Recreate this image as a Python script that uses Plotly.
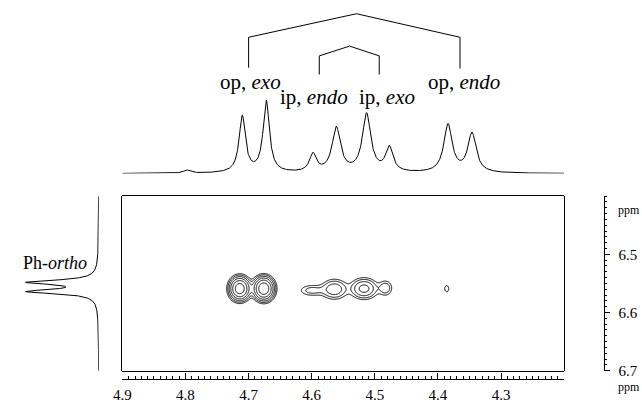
import numpy as np
import plotly.graph_objects as go

# ---------------- data ----------------
# F2 (horizontal, 1H) projection: peak list (ppm, height, half-width ppm)
f2_ppm = [4.798, 4.710, 4.672, 4.598, 4.561, 4.513, 4.477, 4.384, 4.346]
f2_height = [0.031, 0.575, 0.73, 0.183, 0.455, 0.595, 0.25, 0.49, 0.40]
f2_halfwidth = [0.006, 0.006, 0.006, 0.0065, 0.008, 0.008, 0.007, 0.0079, 0.0079]

# F1 (vertical, Ph-ortho) projection
f1_ppm = [6.548, 6.564]
f1_height = [0.76, 0.76]
f1_halfwidth = [0.0045, 0.0045]

# cross peaks (F2 ppm, F1 ppm, amplitude, sigma F2, sigma F1)
cross_f2 = [4.714, 4.676, 4.600, 4.564, 4.517, 4.483, 4.386]
cross_f1 = [6.559, 6.559, 6.562, 6.560, 6.559, 6.558, 6.559]
cross_amp = [1.0, 1.1, 0.11, 0.22, 0.30, 0.13, 0.065]
cross_sx = [0.0085, 0.0085, 0.013, 0.0120, 0.0120, 0.0070, 0.0044]
cross_sy = [0.0105, 0.0105, 0.0065, 0.0100, 0.0100, 0.0085, 0.0072]

# peak labels
label_text = ["op, <i>exo</i>", "ip, <i>endo</i>", "ip, <i>exo</i>", "op, <i>endo</i>"]
label_ppm = [4.697, 4.596, 4.480, 4.358]
label_level = [0.93, 0.78, 0.78, 0.93]

# connecting brackets (ppm of legs and apex, heights in projection units)
bracket_outer_ppm = [4.700, 4.700, 4.529, 4.365, 4.365]
bracket_outer_lvl = [1.08, 1.39, 1.63, 1.39, 1.07]
bracket_inner_ppm = [4.588, 4.588, 4.540, 4.493, 4.493]
bracket_inner_lvl = [1.01, 1.20, 1.30, 1.20, 1.01]

x_ticks = [4.9, 4.8, 4.7, 4.6, 4.5, 4.4, 4.3]
y_ticks = [6.5, 6.6, 6.7]

# ---------------- build curves ----------------
gx = np.linspace(4.9, 4.2, 1400)
top = np.zeros_like(gx)
for p, h, w in zip(f2_ppm, f2_height, f2_halfwidth):
    top += h * w**2 / (w**2 + (gx - p) ** 2)

gy = np.linspace(6.4, 6.7, 800)
side = np.zeros_like(gy)
for p, h, w in zip(f1_ppm, f1_height, f1_halfwidth):
    side += h * w**2 / (w**2 + (gy - p) ** 2)

cx = np.linspace(4.9, 4.2, 1000)
cy = np.linspace(6.4, 6.7, 450)
X, Y = np.meshgrid(cx, cy)
Z = np.zeros_like(X)
for a, b, amp, sx, sy in zip(cross_f2, cross_f1, cross_amp, cross_sx, cross_sy):
    Z += amp * np.exp(-0.5 * ((X - a) / sx) ** 2 - 0.5 * ((Y - b) / sy) ** 2)
logZ = np.log(Z + 1e-9)

W, H = 642, 414
def px(v):
    return v / W
def py(v):
    return 1 - v / H

serif = "Liberation Serif"
fig = go.Figure()

# 2D contour (drawn on the ppm scale axes, which share the box area)
fig.add_trace(go.Contour(
    x=cx, y=cy, z=logZ,
    contours=dict(start=np.log(0.05), end=np.log(1.2), size=np.log(1.7), coloring="lines"),
    colorscale=[[0, "black"], [1, "black"]],
    line=dict(width=1), showscale=False, hoverinfo="skip",
    xaxis="x2", yaxis="y2"))

# top projection
fig.add_trace(go.Scatter(x=gx, y=top, mode="lines", line=dict(color="black", width=1),
                         xaxis="x", yaxis="y3", hoverinfo="skip"))
# brackets
fig.add_trace(go.Scatter(x=bracket_outer_ppm, y=bracket_outer_lvl, mode="lines",
                         line=dict(color="black", width=1), xaxis="x", yaxis="y3"))
fig.add_trace(go.Scatter(x=bracket_inner_ppm, y=bracket_inner_lvl, mode="lines",
                         line=dict(color="black", width=1), xaxis="x", yaxis="y3"))
# side projection
fig.add_trace(go.Scatter(x=side, y=gy, mode="lines", line=dict(color="black", width=1),
                         xaxis="x4", yaxis="y", hoverinfo="skip"))

for t, xp, lv in zip(label_text, label_ppm, label_level):
    fig.add_annotation(x=xp, y=lv, xref="x", yref="y3", text=t, showarrow=False,
                       xanchor="center", yanchor="middle",
                       font=dict(family=serif, size=21, color="black"))

fig.add_annotation(x=px(47), y=py(268), xref="paper", yref="paper",
                   text="Ph-<i>ortho</i>", showarrow=False, xanchor="center", yanchor="middle",
                   font=dict(family=serif, size=18, color="black"))
fig.add_annotation(x=1.0, y=py(395), xref="paper", yref="paper", text="ppm",
                   showarrow=False, xanchor="right", yanchor="middle",
                   font=dict(family=serif, size=12, color="black"))
fig.add_annotation(x=1.0, y=py(214), xref="paper", yref="paper", text="ppm",
                   showarrow=False, xanchor="right", yanchor="middle",
                   font=dict(family=serif, size=12, color="black"))

box_x = [px(115), px(563)]
box_y = [py(378), py(200)]
fig.update_layout(
    width=W, height=H, margin=dict(l=0, r=0, t=0, b=0),
    paper_bgcolor="white", plot_bgcolor="rgba(0,0,0,0)", showlegend=False,
    xaxis=dict(domain=box_x, range=[4.9, 4.2], showline=True, mirror=True,
               linecolor="black", linewidth=1, showticklabels=False, ticks="",
               showgrid=False, zeroline=False, anchor="y"),
    yaxis=dict(domain=box_y, range=[6.7, 6.4], showline=True, mirror=True,
               linecolor="black", linewidth=1, showticklabels=False, ticks="",
               showgrid=False, zeroline=False, anchor="x"),
    xaxis2=dict(domain=box_x, range=[4.9, 4.2], anchor="free",
                position=py(386), side="bottom", showline=True, linecolor="black",
                linewidth=1, ticks="inside", ticklen=6, tickcolor="black",
                tickvals=x_ticks, ticktext=[f"{v:.1f}" for v in x_ticks],
                tickfont=dict(family=serif, size=15, color="black"),
                ticklabelstandoff=2,
                minor=dict(dtick=0.01, ticks="inside", ticklen=3, tickcolor="black"),
                showgrid=False, zeroline=False),
    yaxis2=dict(domain=box_y, range=[6.7, 6.4], anchor="free",
                position=px(603), side="right", showline=True, linecolor="black",
                linewidth=1, ticks="outside", ticklen=5, tickcolor="black",
                tickvals=y_ticks, ticktext=[f"{v:.1f}" for v in y_ticks],
                tickfont=dict(family=serif, size=15, color="black"),
                ticklabelstandoff=6,
                minor=dict(dtick=0.01, ticks="outside", ticklen=2.5, tickcolor="black"),
                showgrid=False, zeroline=False),
    yaxis3=dict(domain=[py(177), py(10)], range=[0, 1.67], anchor="x",
                visible=False, showgrid=False, zeroline=False),
    xaxis4=dict(domain=[0, px(91)], range=[1.0, 0], anchor="y", visible=False,
                showgrid=False, zeroline=False),
)

fig.write_html("out.html", config={"displayModeBar": False},
               post_script="document.body.style.margin='0';")
